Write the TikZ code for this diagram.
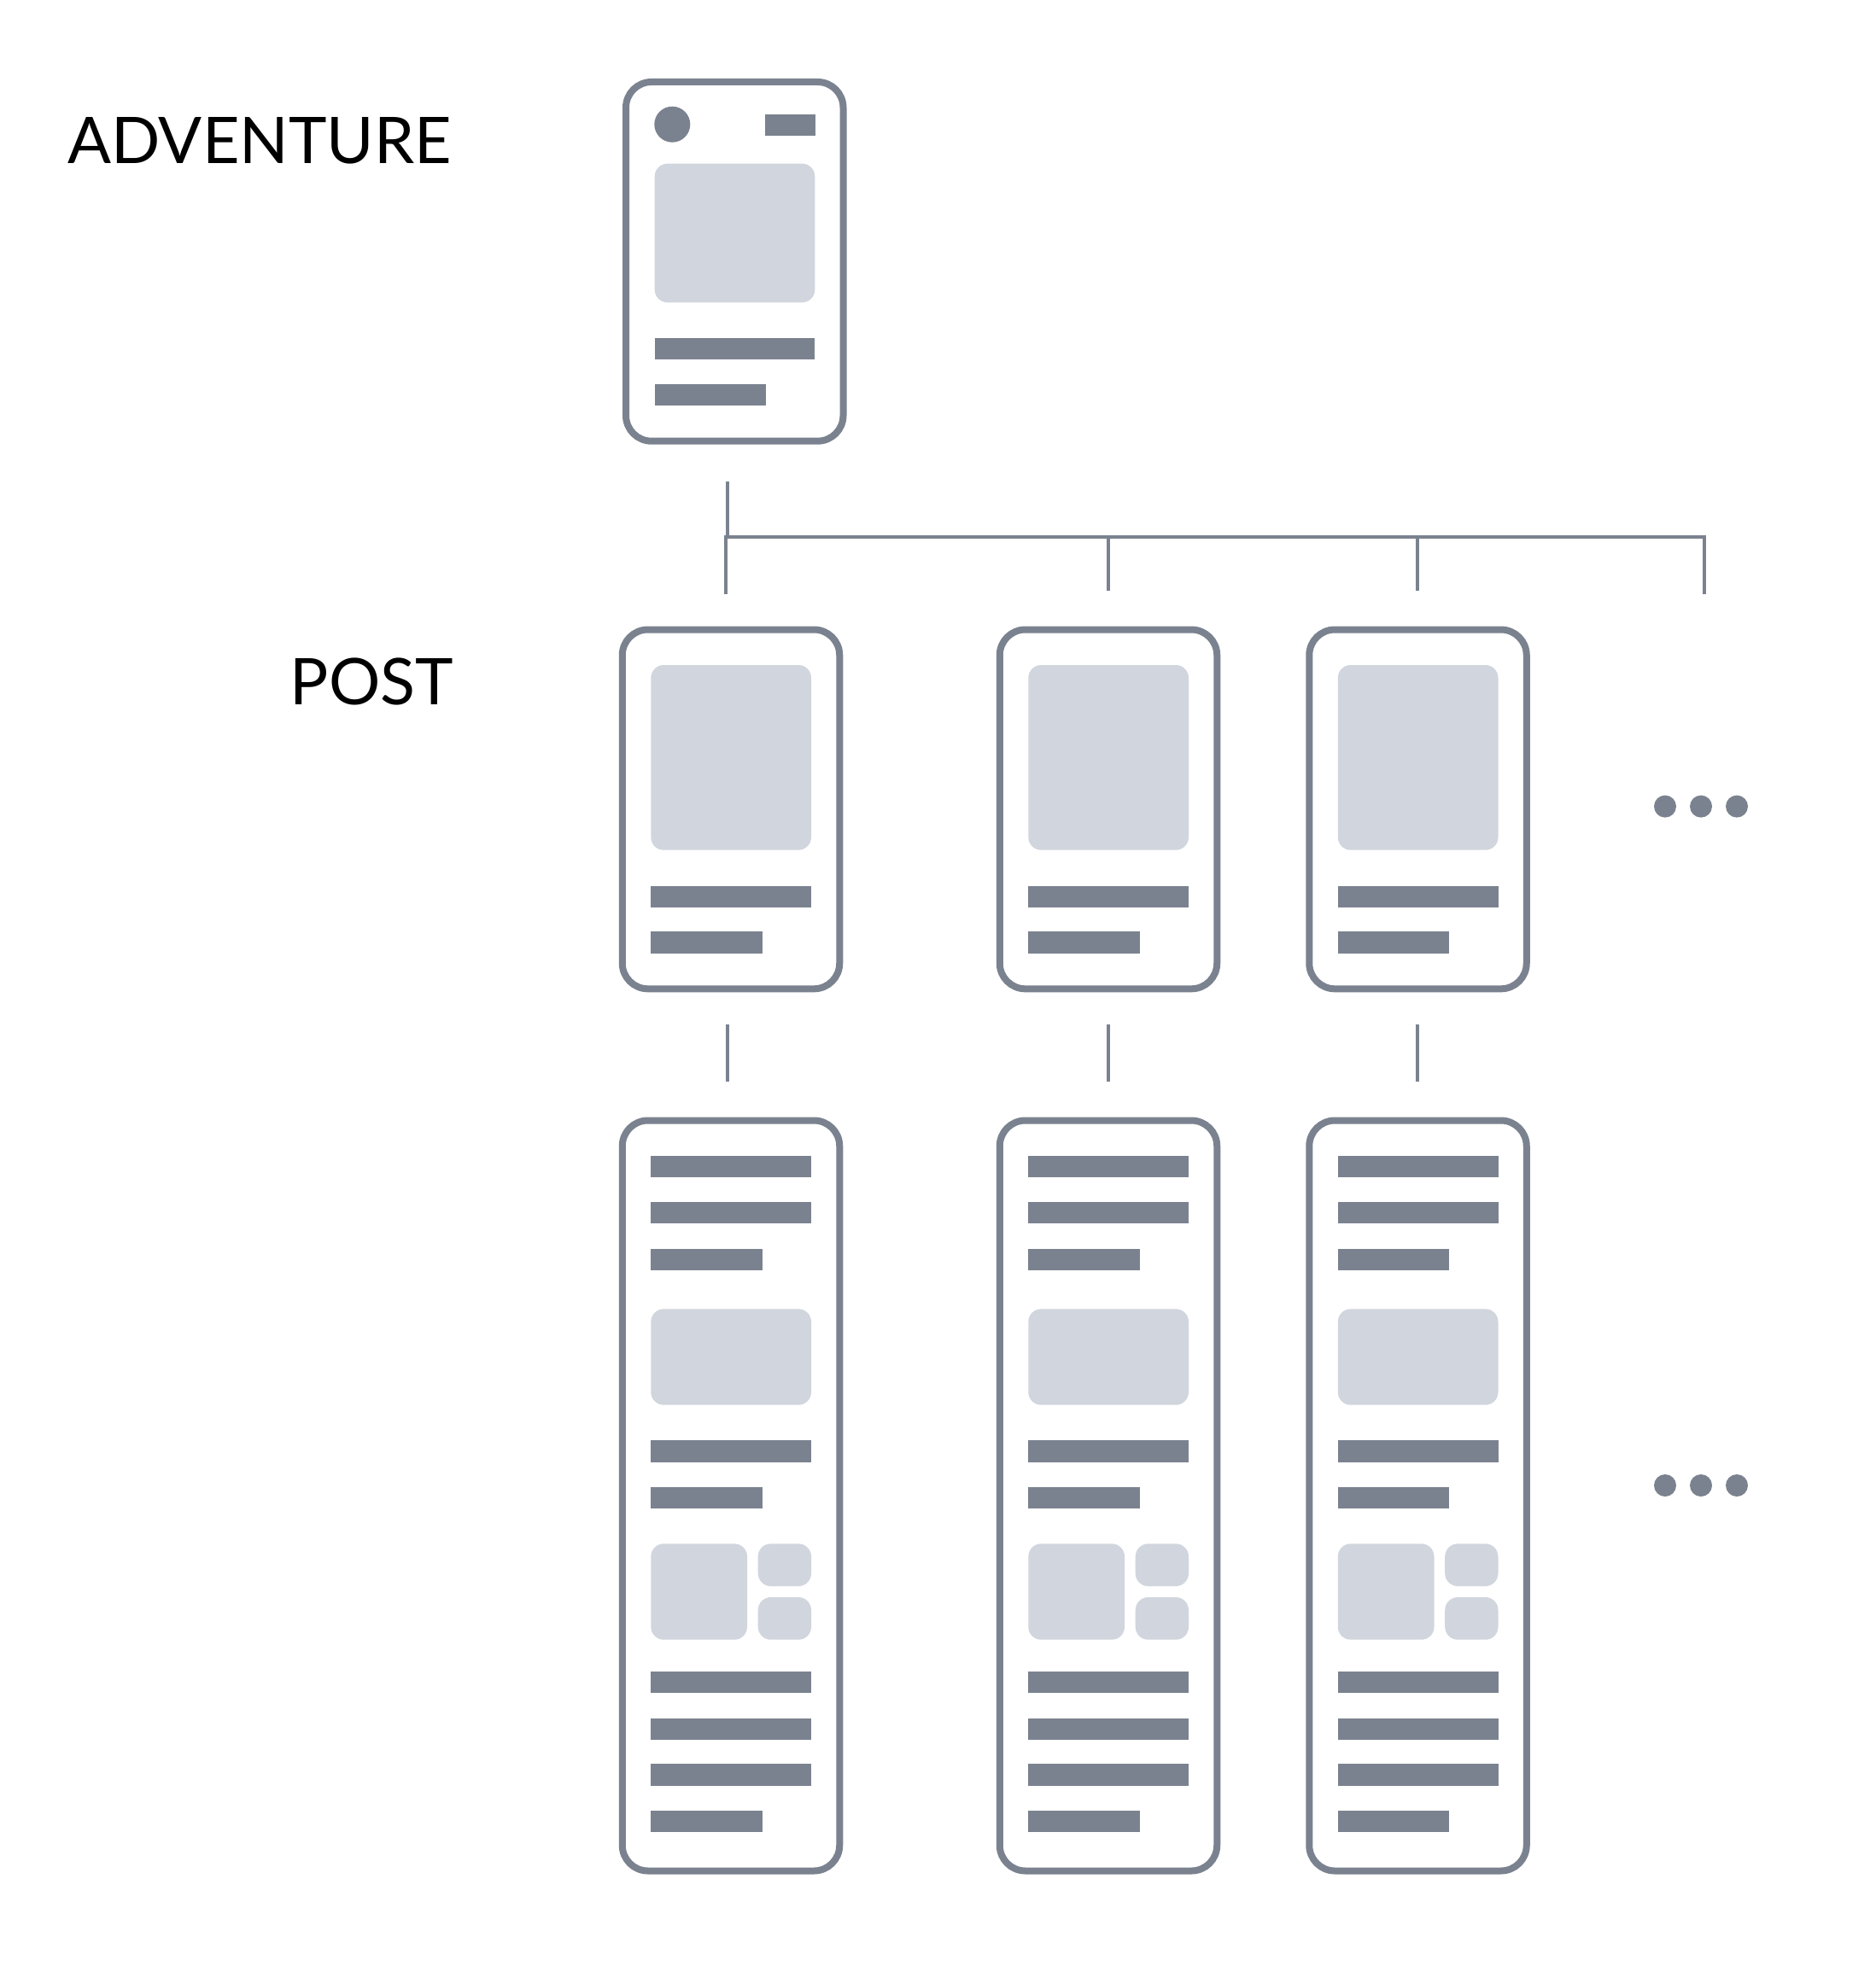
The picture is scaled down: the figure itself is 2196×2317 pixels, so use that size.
\documentclass[tikz,border=0pt]{standalone}
\usepackage{fontspec}
\setmainfont{Lato}
\definecolor{wfdark}{RGB}{123,130,143}
\definecolor{wflight}{RGB}{209,213,221}
\tikzset{
  phone/.style={draw=wfdark, line width=8pt, rounded corners=30pt, fill=white,
    inner sep=0pt, outer sep=0pt, minimum width=254.5pt},
  bar/.style={fill=wfdark},
  pic/.style={fill=wflight, rounded corners=15pt},
  link/.style={draw=wfdark, line width=4pt},
  dot/.style={fill=wfdark},
  label/.style={font=\fontsize{75.4}{90}\selectfont, text=black, inner sep=0pt, anchor=base east}
}
\begin{document}
\begin{tikzpicture}[x=1pt, y=-1pt]
\useasboundingbox (0,0) rectangle (2196,2317);

% labels
\node[label] (advlabel) at (529,191.7) {ADVENTURE};
\node[label] (postlabel) at (531,825.7) {POST};

% adventure phone
\node[phone, minimum height=420.7pt] (adv) at (860.25,306.35) {};
\fill[dot] (787.3,145.7) circle (21);
\fill[bar] (895.7,134) rectangle (955.3,159.3);
\fill[pic] (766.7,191.7) rectangle (954.3,354.3);
\fill[bar] (766.7,396) rectangle (954.3,421);
\fill[bar] (766.7,450) rectangle (897,475.3);

% post and detail phones
\foreach \dx/\n in {0/1,442/2,804.5/3}{
  \node[phone, minimum height=420.8pt] (post\n) at (856+\dx,947.9) {};
  \node[phone, minimum height=879pt] (detail\n) at (856+\dx,1752) {};
  \begin{scope}[xshift=\dx pt]
    % post contents
    \fill[pic] (762.3,779) rectangle (950,995.7);
    \fill[bar] (762.3,1037.7) rectangle (950,1062.7);
    \fill[bar] (762.3,1091.3) rectangle (892.7,1116.7);
    % detail contents
    \fill[bar] (762.3,1354) rectangle (950,1379);
    \fill[bar] (762.3,1408) rectangle (950,1433.3);
    \fill[bar] (762.3,1462.7) rectangle (892.7,1487.5);
    \fill[pic] (762.3,1533.3) rectangle (950,1645.7);
    \fill[bar] (762.3,1687.3) rectangle (950,1712.7);
    \fill[bar] (762.3,1741.7) rectangle (892.7,1766.7);
    \fill[pic] (762.3,1808.3) rectangle (875,1920.7);
    \fill[pic] (887.7,1808.3) rectangle (950,1858);
    \fill[pic] (887.7,1871) rectangle (950,1920.7);
    \fill[bar] (762.3,1958.3) rectangle (950,1983.3);
    \fill[bar] (762.3,2012.7) rectangle (950,2037.7);
    \fill[bar] (762.3,2066.3) rectangle (950,2091.7);
    \fill[bar] (762.3,2121) rectangle (892.7,2146);
  \end{scope}
}

% connector coordinates
\coordinate (stemtop) at (852.3,564.3);
\coordinate (stembot) at (852.3,629.3);
\coordinate (hl) at (849.8,629.3);
\coordinate (hr) at (1995.6,629.3);
\coordinate (h2) at (1298,629.3);
\coordinate (h3) at (1660.3,629.3);
\coordinate (d1) at (849.8,695.7);
\coordinate (d2) at (1298,691.6);
\coordinate (d3) at (1660.3,691.6);
\coordinate (d4) at (1995.6,695.7);
\foreach \n/\xx in {1/852.3,2/1297.7,3/1660.3}{
  \coordinate (lt\n) at (\xx,1200);
  \coordinate (lb\n) at (\xx,1266.7);
}

\draw[link] (stemtop) -- (stembot);
\draw[link, line cap=rect] (hl) -- (hr);
\draw[link] (hl) -- (d1);
\draw[link] (h2) -- (d2);
\draw[link] (h3) -- (d3);
\draw[link] (hr) -- (d4);
\foreach \n in {1,2,3}{
  \draw[link] (lt\n) -- (lb\n);
}

% ellipses
\foreach \xx/\n in {1950/a,1992/b,2034/c}{
  \fill[dot] (\xx,944.6) circle (13) coordinate (dotu\n);
  \fill[dot] (\xx,1740) circle (13) coordinate (dotl\n);
}
\end{tikzpicture}
\end{document}
